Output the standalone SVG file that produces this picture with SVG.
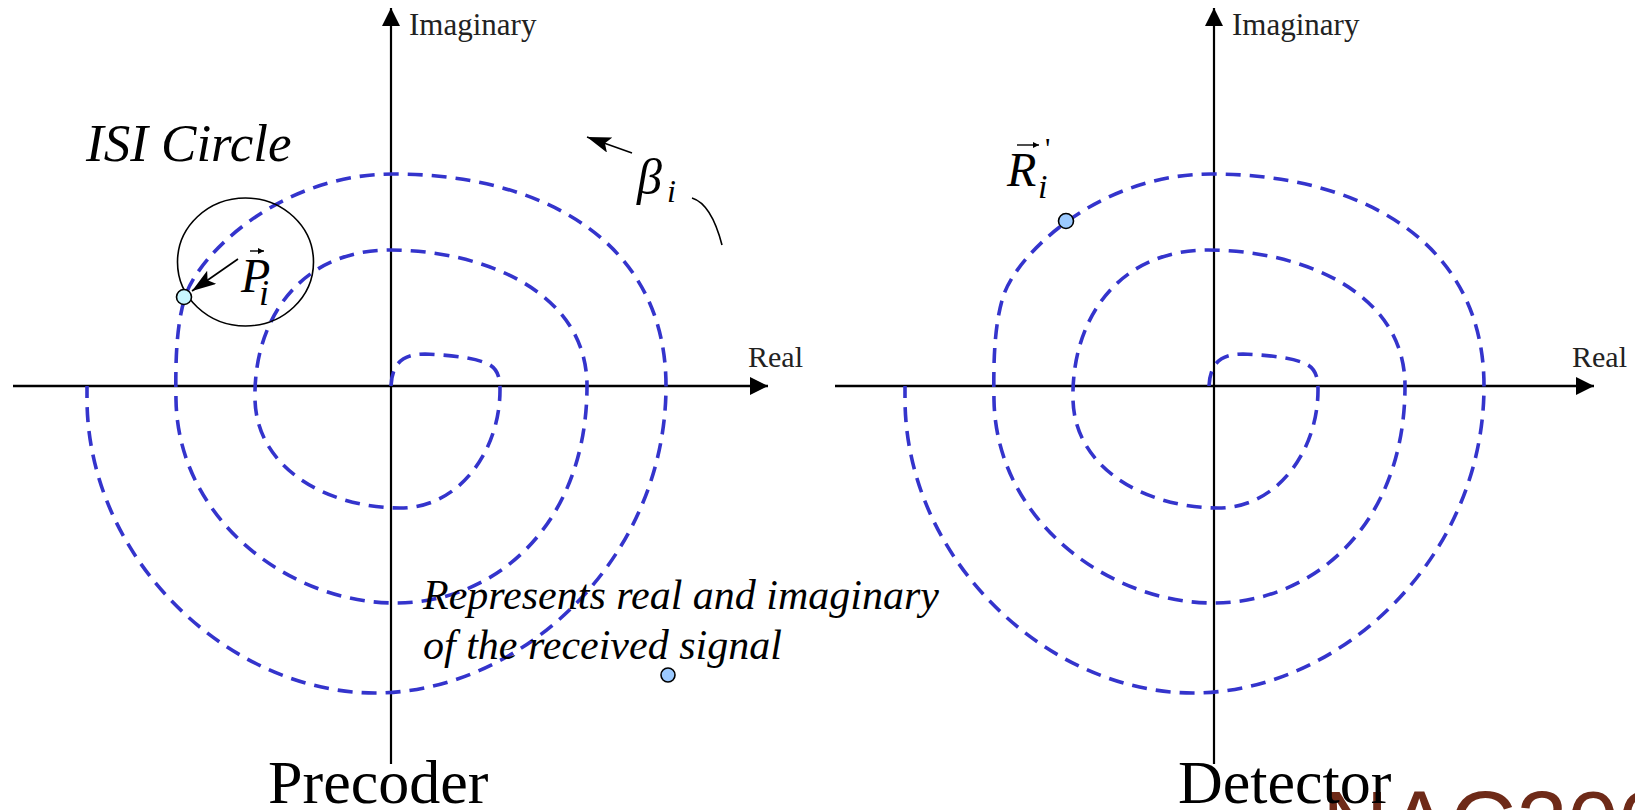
<svg xmlns="http://www.w3.org/2000/svg" width="1635" height="810" viewBox="0 0 1635 810">
<style>
.axis{stroke:#000;fill:none}
.spiral{stroke:#3434cc;stroke-width:3.6;fill:none;stroke-dasharray:15 9}
.serif{font-family:"Liberation Serif","Times New Roman",serif;fill:#000}
.it{font-style:italic}
.lbl{font-size:31px;fill:#222}
.big{font-size:62px}
.ptr{stroke:#000;stroke-width:1.6;fill:none}
</style>
<defs>
<marker id="axhead" markerUnits="userSpaceOnUse" markerWidth="20" markerHeight="20" refX="18" refY="9" orient="auto">
<path d="M0,0 L18,9 L0,18 z" fill="#000"/>
</marker>
<marker id="ptrhead" markerUnits="userSpaceOnUse" markerWidth="26" markerHeight="18" refX="24" refY="8" orient="auto">
<path d="M0,0 L24,8 L0,16 L5,8 z" fill="#000"/>
</marker>
<marker id="vec" markerUnits="userSpaceOnUse" markerWidth="8" markerHeight="8" refX="6" refY="3" orient="auto">
<path d="M0,0 L6,3 L0,6 z" fill="#000"/>
</marker>
<path id="sp" d="M391,386 C392,364 402,354 425,354 C450,355 478,358 490,365 C498,370 500,378 500,390 C500,450 460,508 400,508 C330,508 257,470 255,400 C253,320 300,250 390,250 C480,250 587,290 587,386 C587,520 500,603 395,603 C290,603 178,520 176,400 C175,350 178,320 185,297 C198,255 280,174 393,174 C540,174 666,240 666,386 C666,560 520,693 375,693 C230,693 88,560 87,400 L87,386"/>
</defs>

<text x="1322" y="856" style="font-family:'Liberation Sans',Arial,sans-serif;font-size:92px;fill:#6e2a18">NAC200</text>

<g id="left-plane">
<line class="axis" x1="13" y1="386" x2="768" y2="386" stroke-width="2.6" marker-end="url(#axhead)"/>
<line class="axis" x1="391" y1="764" x2="391" y2="8" stroke-width="2.2" marker-end="url(#axhead)"/>
<text class="serif lbl" x="409" y="35">Imaginary</text>
<text class="serif" x="748" y="367" style="font-size:30px;fill:#222">Real</text>
</g>

<g id="right-plane">
<line class="axis" x1="835" y1="386" x2="1594" y2="386" stroke-width="2.6" marker-end="url(#axhead)"/>
<line class="axis" x1="1214" y1="764" x2="1214" y2="8" stroke-width="2.2" marker-end="url(#axhead)"/>
<text class="serif lbl" x="1232" y="35">Imaginary</text>
<text class="serif" x="1572" y="367" style="font-size:30px;fill:#222">Real</text>
</g>

<g id="spiral-left"><use href="#sp" class="spiral"/></g>
<g id="spiral-right"><use href="#sp" class="spiral" transform="translate(818,0)"/></g>

<g id="isi-circle">
<ellipse cx="245.5" cy="262" rx="68" ry="64" fill="none" stroke="#000" stroke-width="1.6"/>
<text class="serif it" x="86" y="161" style="font-size:53px">ISI Circle</text>
</g>

<g id="point-P">
<circle cx="184" cy="297" r="7.5" fill="#c8f6ff" stroke="#000" stroke-width="1.6"/>
<text class="serif it" x="241" y="292" style="font-size:48px">P</text>
<text class="serif it" x="259" y="305" style="font-size:36px">i</text>
<line x1="250" y1="251" x2="264" y2="251" stroke="#000" stroke-width="1.4" marker-end="url(#vec)"/>
</g>

<g id="beta">
<text class="serif it" x="637" y="194" style="font-size:50px">β</text>
<text class="serif it" x="667" y="202" style="font-size:32px">i</text>
</g>

<g id="point-R">
<circle cx="1066" cy="221" r="7.5" fill="#9ccaff" stroke="#000" stroke-width="1.6"/>
<text class="serif it" x="1007" y="186" style="font-size:48px">R</text>
<text class="serif it" x="1038" y="198" style="font-size:34px">i</text>
<text class="serif" x="1045" y="158" style="font-size:30px">'</text>
<line x1="1017" y1="145" x2="1039" y2="145" stroke="#000" stroke-width="1.4" marker-end="url(#vec)"/>
</g>

<g id="signal-note">
<text class="serif it" x="423" y="609" style="font-size:42px">Represents real and imaginary</text>
<text class="serif it" x="423" y="659" style="font-size:42px">of the received signal</text>
<circle cx="668" cy="675" r="7" fill="#9ccaff" stroke="#000" stroke-width="1.6"/>
</g>

<g id="connectors">
<line class="ptr" x1="238" y1="259" x2="192" y2="291" marker-end="url(#ptrhead)"/>
<line class="ptr" x1="632" y1="153" x2="587" y2="137" marker-end="url(#ptrhead)"/>
<path class="ptr" d="M692,198 C705,202 715,218 722,245"/>
</g>

<g id="captions">
<text class="serif big" x="268" y="803">Precoder</text>
<text class="serif big" x="1178" y="803">Detector</text>
</g>
</svg>
